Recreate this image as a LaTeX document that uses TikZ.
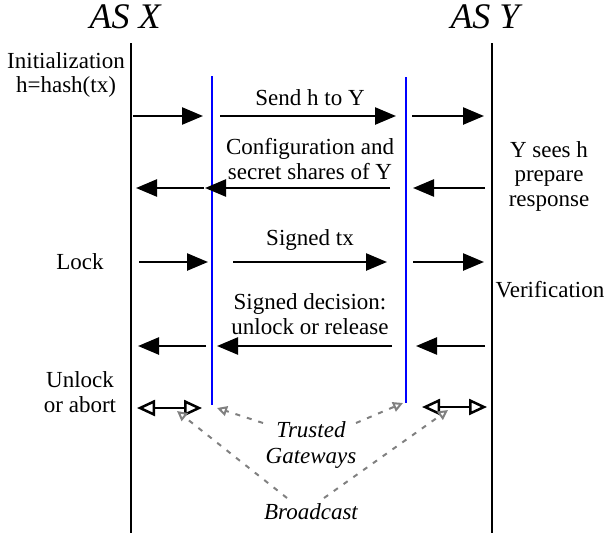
\documentclass[tikz,border=0pt]{standalone}
\usepackage{fontspec}
\setmainfont{Liberation Serif}
\usepackage{tikz}
\usetikzlibrary{arrows.meta}

\tikzset{
	msg/.style={line width=2.5pt, -{Triangle[length=21pt,width=17pt]}},
	lifeline/.style={line width=2.5pt},
	gateline/.style={line width=2pt, blue},
	bcast/.style={line width=2.5pt, {Triangle[open,length=18pt,width=16pt]}-{Triangle[open,length=18pt,width=16pt]}},
	hint/.style={line width=2pt, gray, dash pattern=on 5pt off 7pt, -{Triangle[open,length=10pt,width=10pt]}},
	txt/.style={font=\fontsize{23}{24.5}\selectfont, align=center, inner sep=0pt},
	itxt/.style={txt, font=\fontsize{23}{26}\selectfont\itshape},
	astxt/.style={font=\fontsize{36}{38}\selectfont\itshape, inner sep=0pt}
}

\begin{document}
\begin{tikzpicture}[x=1pt,y=-1pt]
	\useasboundingbox (0,0) rectangle (604,533);

	% lifelines
	\draw[lifeline] (131,43) coordinate (xtop) -- (131,533) coordinate (xbot);
	\draw[lifeline] (492,43) coordinate (ytop) -- (492,533) coordinate (ybot);
	\draw[gateline] (212,76) coordinate (gxtop) -- (212,405) coordinate (gxbot);
	\draw[gateline] (406,77) coordinate (gytop) -- (406,403) coordinate (gybot);

	\node[astxt] (asx) at (125,17) {AS X};
	\node[astxt] (asy) at (485,17) {AS Y};

	% messages to the right
	\foreach \y/\a/\b/\c/\d/\e/\f in {116/133/203/220/396/412/484, 262/139/208/233/387/413/484}
	{
		\draw[msg] (\a,\y) -- (\b,\y);
		\draw[msg] (\c,\y) -- (\d,\y);
		\draw[msg] (\e,\y) -- (\f,\y);
	}
	% messages to the left
	\foreach \y/\a/\b/\c/\d/\e/\f in {188/485/413/390/205/204/136, 346/485/416/392/217/206/138}
	{
		\draw[msg] (\a,\y) -- (\b,\y);
		\draw[msg] (\c,\y) -- (\d,\y);
		\draw[msg] (\e,\y) -- (\f,\y);
	}

	% texts on the messages
	\node[txt] (send) at (310,98) {Send h to Y};
	\node[txt] (conf) at (310,159) {Configuration and\\secret shares of Y};
	\node[txt] (signed) at (310,240) {Signed tx};
	\node[txt] (decision) at (310,314) {Signed decision:\\unlock or release};

	% steps of X and Y
	\node[txt] (init) at (66,75) {Initialization\\h=hash(tx)};
	\node[txt] (lock) at (80,262) {Lock};
	\node[txt] (unlock) at (80,392) {Unlock\\or abort};
	\node[txt] (sees) at (549,176) {Y sees h\\prepare\\response};
	\node[txt] (verif) at (550,290) {Verification};

	% broadcast arrows
	\draw[bcast] (137,408) coordinate (bxl) -- (202,408) coordinate (bxr);
	\draw[bcast] (422,407) coordinate (byl) -- (487,407) coordinate (byr);

	\node[itxt] (trusted) at (311,445) {Trusted\\Gateways};
	\node[itxt] (broad) at (311,512) {Broadcast};

	\coordinate (tx) at (217,408);
	\coordinate (ty) at (403,403);
	\coordinate (bx) at (177,411);
	\coordinate (by) at (448,410);

	\draw[hint] (263,423) -- (tx);
	\draw[hint] (356,423) -- (ty);
	\draw[hint] (287,498) -- (bx);
	\draw[hint] (324,498) -- (by);
\end{tikzpicture}
\end{document}
